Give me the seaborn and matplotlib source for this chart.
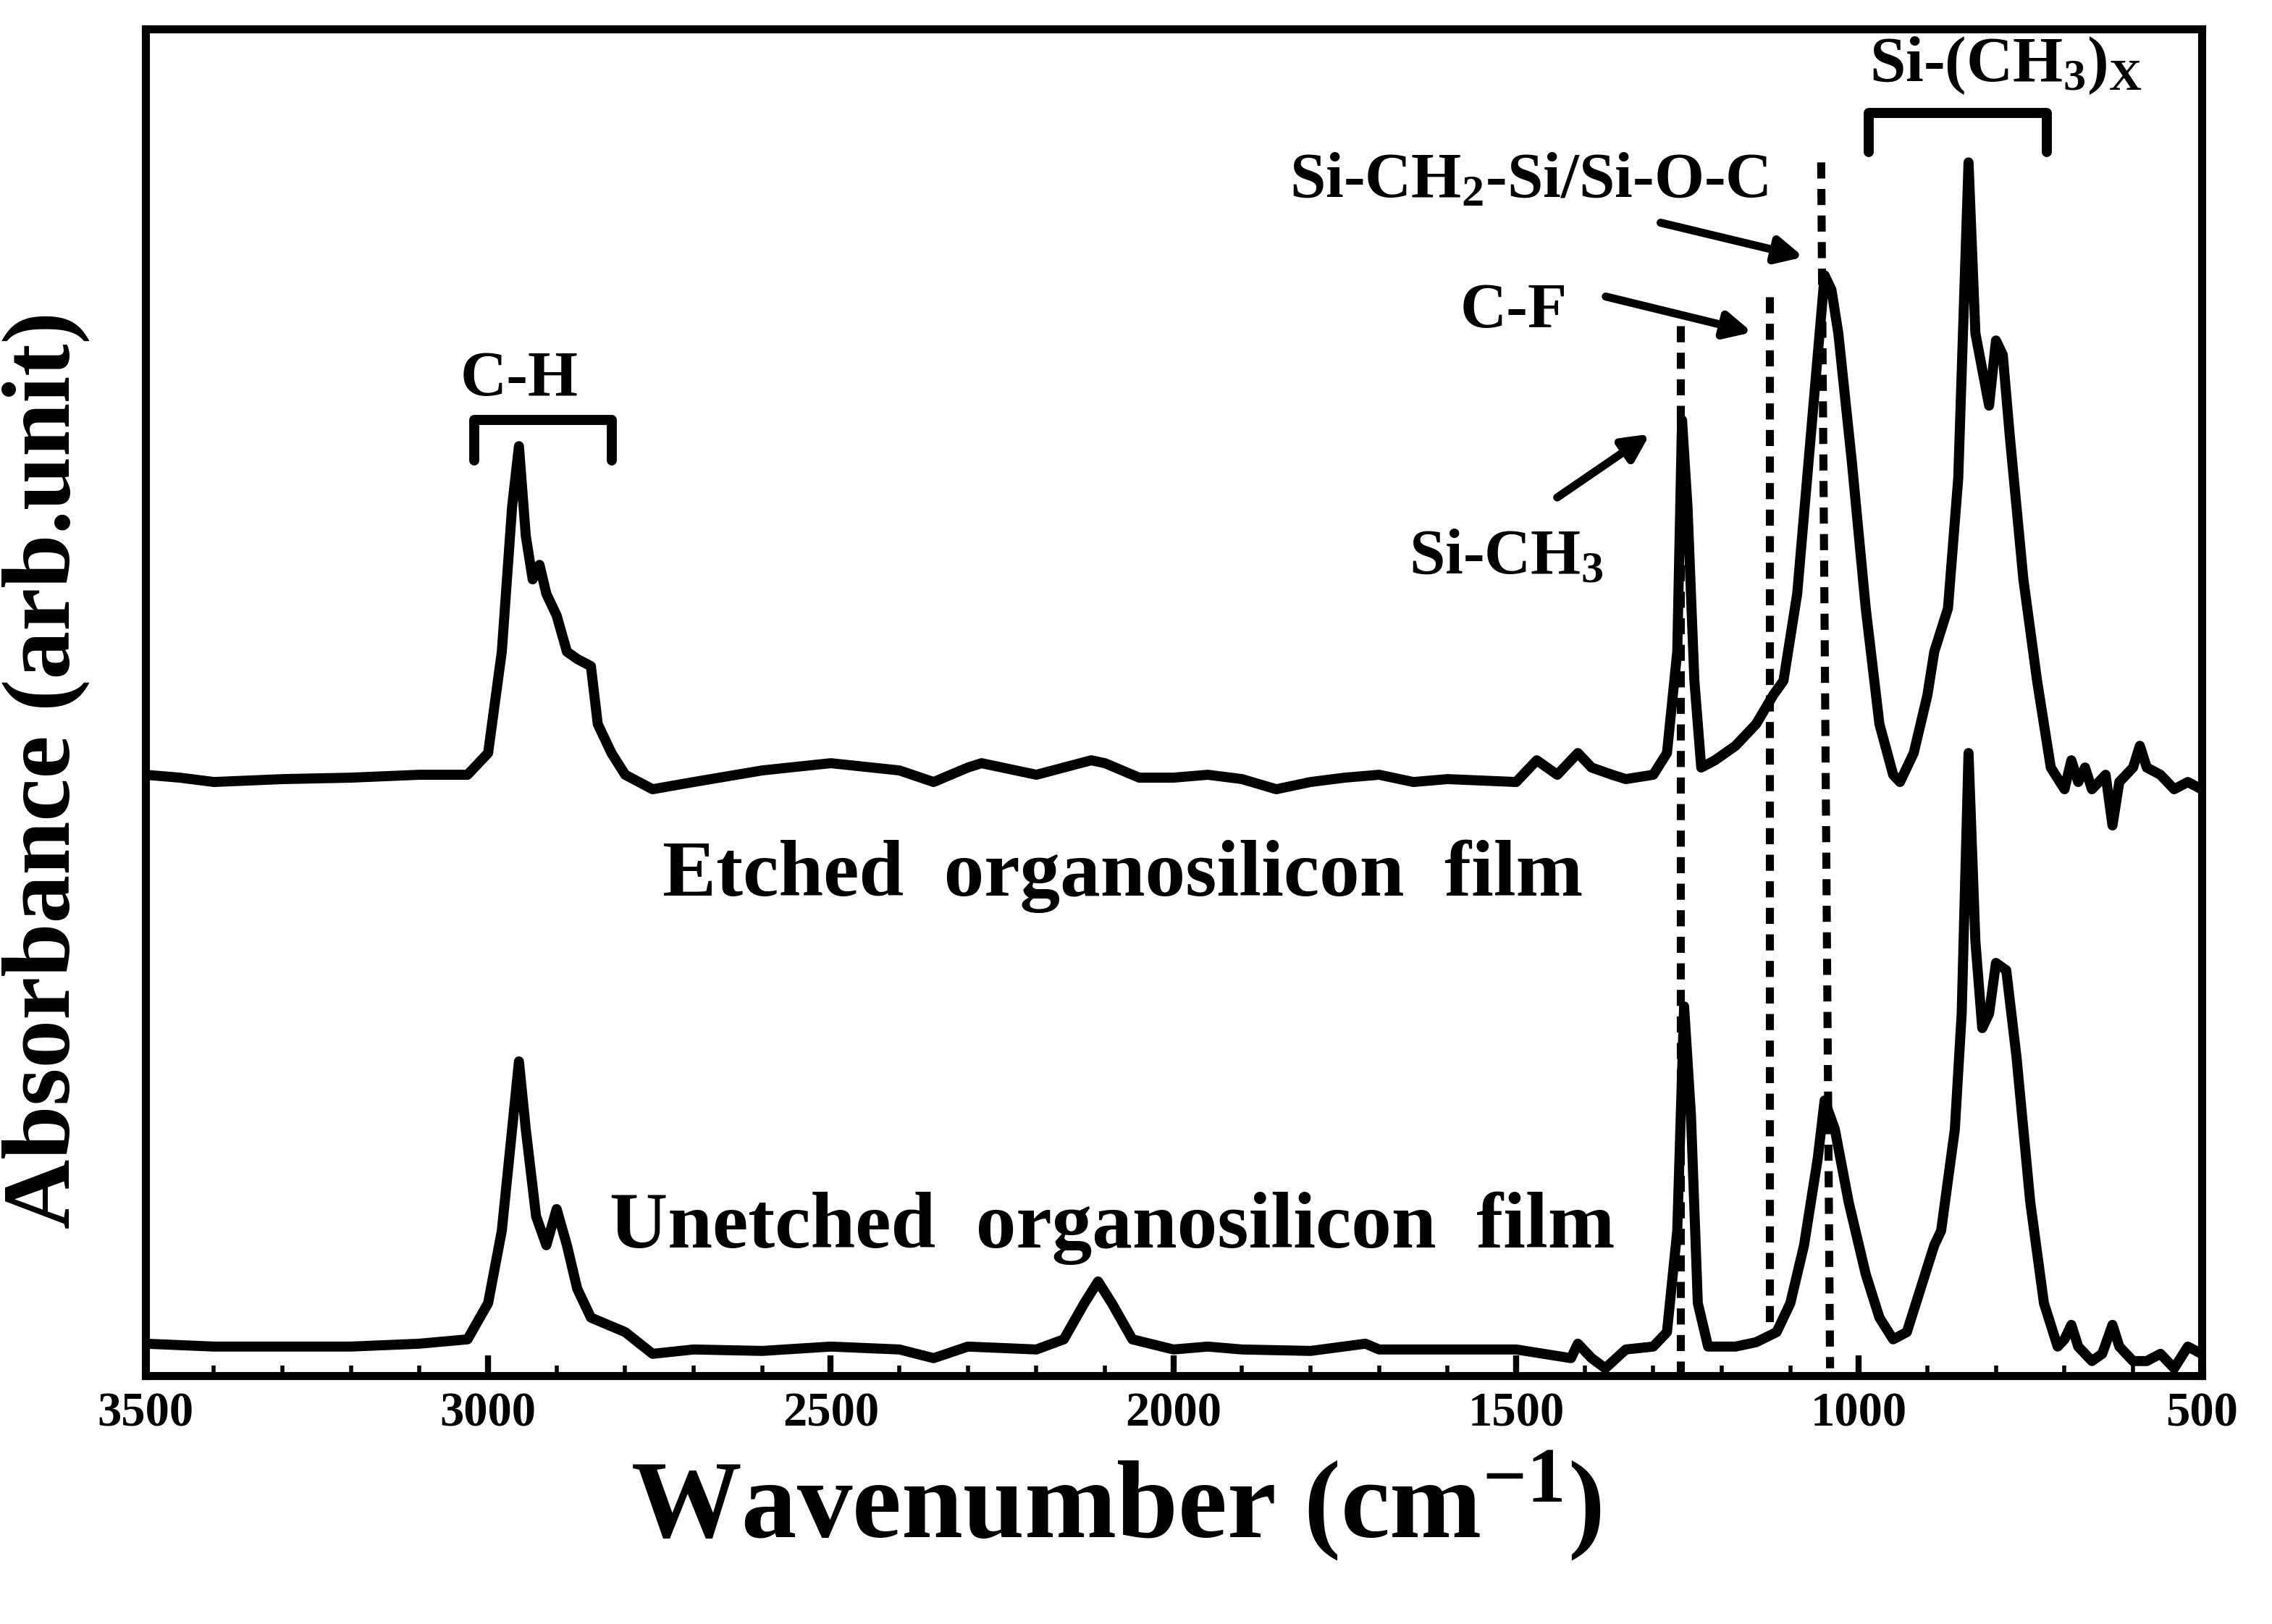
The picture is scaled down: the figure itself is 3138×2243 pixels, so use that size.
import matplotlib
matplotlib.use('Agg')
import matplotlib.pyplot as plt
import seaborn as sns
import pandas as pd

sns.set_theme(style='white')
plt.rcParams['font.family'] = ['Liberation Serif', 'DejaVu Serif']
plt.rcParams['font.weight'] = 'bold'
plt.rcParams['text.color'] = 'black'
plt.rcParams['axes.labelcolor'] = 'black'
plt.rcParams['xtick.color'] = 'black'
plt.rcParams['mathtext.fontset'] = 'custom'
plt.rcParams['mathtext.rm'] = 'Liberation Serif:bold'
plt.rcParams['mathtext.it'] = 'Liberation Serif:bold'
plt.rcParams['mathtext.bf'] = 'Liberation Serif:bold'

# spectra (wavenumber, absorbance in arb. units)
etched_wn = [3500, 3450, 3400, 3300, 3200, 3100, 3030, 3000, 2980, 2965, 2955, 2945, 2935, 2925,
             2915, 2900, 2885, 2870, 2850, 2840, 2820, 2800, 2760, 2700, 2600, 2500, 2400, 2350,
             2300, 2280, 2200, 2120, 2100, 2050, 2000, 1950, 1900, 1850, 1800, 1750, 1700, 1650,
             1600, 1500, 1470, 1440, 1410, 1390, 1360, 1340, 1300, 1280, 1265, 1258, 1250, 1240,
             1230, 1210, 1180, 1150, 1125, 1110, 1090, 1070, 1050, 1040, 1030, 1010, 990, 970,
             950, 940, 920, 900, 890, 870, 855, 840, 830, 820, 810, 800, 790, 780, 760, 740, 720,
             700, 690, 680, 670, 660, 640, 630, 620, 600, 590, 580, 560, 540, 520, 500]
etched_abs = [41.5, 41.3, 41.0, 41.2, 41.3, 41.5, 41.5, 43, 50, 60, 64.2, 58, 55, 56,
              54, 52.5, 50, 49.5, 49, 45, 43, 41.5, 40.5, 41, 41.8, 42.3, 41.8, 41,
              42, 42.3, 41.5, 42.5, 42.3, 41.3, 41.3, 41.5, 41.2, 40.5, 41, 41.3, 41.5, 41,
              41.2, 41, 42.5, 41.5, 43, 42, 41.5, 41.2, 41.5, 43, 50, 66, 60, 48,
              42, 42.5, 43.5, 45, 47, 48, 54, 65, 76, 75, 72, 63, 53, 45,
              41.5, 41, 43, 47, 50, 53, 62, 83.8, 72, 69.5, 67, 71.5, 70.5, 65, 55, 48, 42,
              40.5, 42.5, 41, 42, 40.5, 41.5, 38, 41, 42, 43.5, 42, 41.5, 40.5, 41, 40.5]

unetched_wn = [3500, 3400, 3300, 3200, 3100, 3030, 3000, 2980, 2965, 2955, 2945, 2930, 2915, 2900,
               2885, 2870, 2850, 2800, 2760, 2700, 2600, 2500, 2400, 2350, 2300, 2200, 2160, 2130,
               2110, 2090, 2060, 2000, 1950, 1900, 1800, 1720, 1700, 1600, 1500, 1420, 1410, 1390,
               1370, 1340, 1300, 1280, 1265, 1255, 1245, 1235, 1220, 1180, 1150, 1120, 1100, 1080,
               1060, 1050, 1035, 1015, 990, 970, 950, 930, 910, 890, 880, 860, 850, 840, 830, 820,
               810, 800, 785, 770, 750, 730, 710, 700, 690, 680, 660, 645, 630, 620, 600, 580, 560,
               540, 520, 500]
unetched_abs = [2.2, 2.0, 2.0, 2.0, 2.2, 2.5, 5, 10, 17, 21.7, 17, 11, 9, 11.5,
                9, 6, 4, 3, 1.5, 1.8, 1.7, 2, 1.8, 1.2, 2, 1.8, 2.5, 5,
                6.5, 5, 2.5, 1.8, 2, 1.8, 1.7, 2.2, 1.8, 1.8, 1.8, 1.2, 2.2, 1.2,
                0.5, 1.8, 2, 3, 10, 25.5, 18, 5, 2, 2, 2.3, 3, 5, 9,
                15, 19, 17, 12, 7, 4, 2.5, 3, 6, 9, 10, 17, 25, 43, 30, 24,
                25, 28.5, 28, 22, 12, 5, 2, 2.5, 3.5, 2, 1, 1.5, 3.5, 2, 1, 1, 1.5,
                0.5, 2, 1.5]

df_e = pd.DataFrame({'wn': etched_wn, 'a': etched_abs})
df_u = pd.DataFrame({'wn': unetched_wn, 'a': unetched_abs})

fig = plt.figure(figsize=(15.69, 11.215), dpi=200)
ax = fig.add_axes([0.064, 0.153, 0.905, 0.829])
sns.lineplot(data=df_e, x='wn', y='a', color='black', lw=5, ax=ax, sort=False)
sns.lineplot(data=df_u, x='wn', y='a', color='black', lw=5, ax=ax, sort=False)

ax.set_xlim(3500, 500)
ax.set_ylim(0, 93)
ax.set_yticks([])
ax.set_xticks([3500, 3000, 2500, 2000, 1500, 1000, 500])
ax.tick_params(axis='x', direction='in', length=10, width=3, labelsize=24, bottom=True, pad=8)
ax.minorticks_on()
ax.tick_params(axis='x', which='minor', direction='in', length=5, width=2, bottom=True)
ax.tick_params(axis='y', which='minor', left=False)
for lab in ax.get_xticklabels():
    lab.set_fontweight('bold')
for s in ax.spines.values():
    s.set_linewidth(4)
    s.set_color('black')

ax.set_xlabel('Wavenumber (cm$^{-1}$)', fontsize=55, fontweight='bold')
ax.xaxis.set_label_coords(0.472, -0.055)
ax.set_ylabel('Absorbance (arb.unit)', fontsize=48, fontweight='bold')
ax.yaxis.set_label_coords(-0.027, 0.45)

# dashed peak markers
ax.plot([1260, 1260], [72.5, 0], ls=(0, (2, 1.3)), color='black', lw=4)
ax.plot([1130, 1130], [74.5, 3], ls=(0, (2, 1.3)), color='black', lw=4)
ax.plot([1055, 1042], [83.8, 0.5], ls=(0, (2, 1.3)), color='black', lw=4)

fs = 32
ax.text(2955, 68.8, 'C-H', ha='center', va='center', fontsize=fs, fontweight='bold')
ax.plot([3020, 3020, 2820, 2820], [63.2, 66, 66, 63.2], color='black', lw=5)
ax.text(785, 90.5, 'Si-(CH$_3$)$_\\mathrm{X}$', ha='center', va='center', fontsize=fs, fontweight='bold')
ax.plot([986, 986, 726, 726], [84.5, 87.2, 87.2, 84.5], color='black', lw=5)

ax.text(1515, 56.5, 'Si-CH$_3$', ha='center', va='center', fontsize=fs, fontweight='bold')
ax.annotate('', xy=(1300, 65.2), xytext=(1445, 60.5),
            arrowprops=dict(arrowstyle='-|>,head_length=0.9,head_width=0.45', color='black', lw=4))
ax.text(1504, 73.5, 'C-F', ha='center', va='center', fontsize=fs, fontweight='bold')
ax.annotate('', xy=(1150, 72), xytext=(1375, 74.6),
            arrowprops=dict(arrowstyle='-|>,head_length=0.9,head_width=0.45', color='black', lw=4))
ax.text(1482, 82.5, 'Si-CH$_2$-Si/Si-O-C', ha='center', va='center', fontsize=fs, fontweight='bold')
ax.annotate('', xy=(1075, 77.2), xytext=(1295, 79.7),
            arrowprops=dict(arrowstyle='-|>,head_length=0.9,head_width=0.45', color='black', lw=4))

ax.text(2074, 34.5, 'Etched  organosilicon  film', ha='center', va='center', fontsize=40,
        fontweight='bold')
ax.text(2089, 10.2, 'Unetched  organosilicon  film', ha='center', va='center', fontsize=40,
        fontweight='bold')

fig.savefig('out.png', dpi=200, facecolor='white')
